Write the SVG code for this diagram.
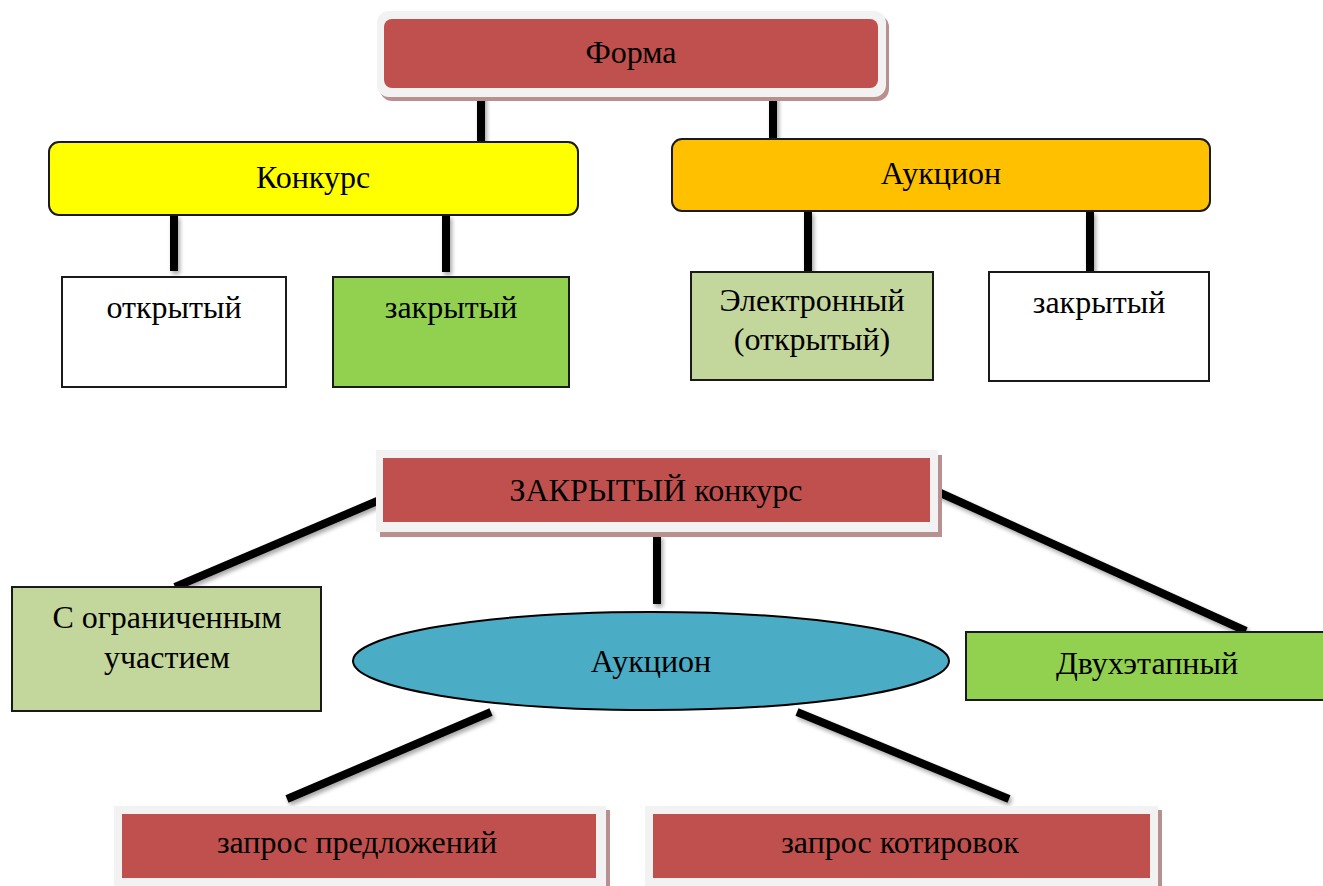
<svg xmlns="http://www.w3.org/2000/svg" width="1323" height="886" viewBox="0 0 1323 886">
<defs>
<style>
text{font-family:"Liberation Serif","Times New Roman",serif;font-size:32px;fill:#000;text-anchor:middle}
.frame{fill:#F2F2F2}
.shadow{fill:#B89090}
.red{fill:#C0504D}
.box{stroke:#1a1a1a;stroke-width:2}
.conn line{stroke:#000;stroke-width:8;stroke-linecap:butt}
</style>
<filter id="sh" x="-10%" y="-10%" width="130%" height="140%">
<feGaussianBlur in="SourceAlpha" stdDeviation="2"/>
<feOffset dx="2" dy="3" result="b"/>
<feComponentTransfer><feFuncA type="linear" slope="0.35"/></feComponentTransfer>
<feMerge><feMergeNode/><feMergeNode in="SourceGraphic"/></feMerge>
</filter>
</defs>
<rect width="1323" height="886" fill="#fff"/>
<g class="conn" filter="url(#sh)">
<line x1="481" y1="93" x2="481" y2="142"/>
<line x1="773" y1="93" x2="773" y2="138"/>
<line x1="174" y1="215" x2="174" y2="271"/>
<line x1="446" y1="215" x2="446" y2="272"/>
<line x1="808" y1="211" x2="808" y2="271"/>
<line x1="1090" y1="211" x2="1090" y2="271"/>
<line x1="382" y1="499" x2="175" y2="587"/>
<line x1="936" y1="491" x2="1246" y2="631"/>
<line x1="657" y1="535" x2="657" y2="604"/>
<line x1="491" y1="712" x2="287" y2="799"/>
<line x1="797" y1="712" x2="1009" y2="799"/>
</g>
<g id="forma">
<rect x="380" y="15" width="509" height="86" rx="12" class="shadow"/>
<rect x="377" y="11" width="509" height="86" rx="12" class="frame"/>
<rect x="384" y="19" width="494" height="69" rx="8" class="red"/>
<text x="631" y="63">Форма</text>
</g>
<g id="konkurs">
<rect x="49" y="142" width="529" height="73" rx="10" fill="#FFFF00" class="box"/>
<text x="313" y="188">Конкурс</text>
</g>
<g id="auktsion-top">
<rect x="672" y="139" width="538" height="72" rx="10" fill="#FFC000" class="box"/>
<text x="941" y="184">Аукцион</text>
</g>
<g id="otkrytyi">
<rect x="62" y="277" width="224" height="110" fill="#fff" class="box"/>
<text x="174" y="318">открытый</text>
</g>
<g id="zakrytyi-k">
<rect x="333" y="277" width="236" height="110" fill="#92D050" class="box"/>
<text x="451" y="318">закрытый</text>
</g>
<g id="elektronnyi">
<rect x="691" y="272" width="242" height="108" fill="#C3D69B" class="box"/>
<text x="812" y="311">Электронный</text>
<text x="812" y="350">(открытый)</text>
</g>
<g id="zakrytyi-a">
<rect x="989" y="272" width="220" height="109" fill="#fff" class="box"/>
<text x="1099" y="313">закрытый</text>
</g>
<g id="zakrytyi-konkurs">
<rect x="380" y="455" width="562" height="82" class="shadow"/>
<rect x="376" y="450" width="562" height="82" class="frame"/>
<rect x="383" y="458" width="547" height="64" class="red"/>
<text x="656" y="501">ЗАКРЫТЫЙ конкурс</text>
</g>
<g id="s-ogranichennym">
<rect x="12" y="587" width="309" height="124" fill="#C3D69B" class="box"/>
<text x="167" y="628">С ограниченным</text>
<text x="167" y="668">участием</text>
</g>
<g id="auktsion-ellipse">
<ellipse cx="651" cy="661" rx="298" ry="49" fill="#4BACC6" stroke="#000" stroke-width="2"/>
<text x="651" y="672">Аукцион</text>
</g>
<g id="dvukhetapnyi">
<rect x="966" y="632" width="360" height="68" fill="#92D050" class="box"/>
<text x="1147" y="674">Двухэтапный</text>
</g>
<g id="zapros-predlozhenii">
<rect x="118" y="810" width="492" height="80" class="shadow"/>
<rect x="114" y="806" width="492" height="80" class="frame"/>
<rect x="122" y="814" width="474" height="64" class="red"/>
<text x="357" y="853">запрос предложений</text>
</g>
<g id="zapros-kotirovok">
<rect x="649" y="810" width="513" height="80" class="shadow"/>
<rect x="645" y="806" width="513" height="80" class="frame"/>
<rect x="653" y="814" width="497" height="64" class="red"/>
<text x="900" y="853">запрос котировок</text>
</g>
</svg>
